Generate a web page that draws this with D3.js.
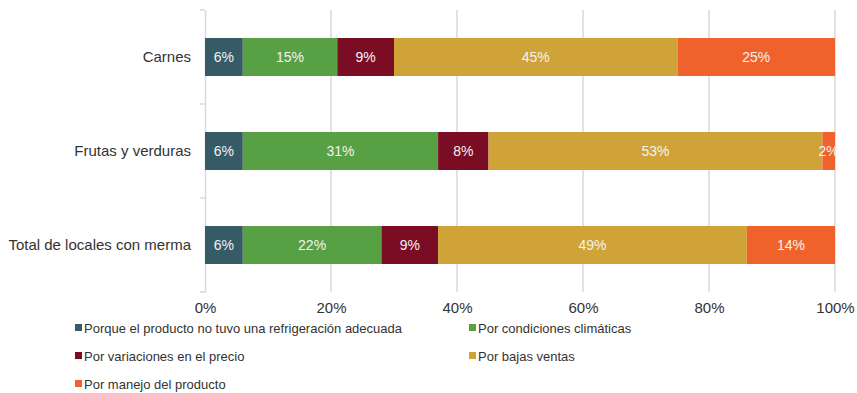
<!DOCTYPE html>
<html>
<head>
<meta charset="utf-8">
<script src="https://cdn.jsdelivr.net/npm/d3@7"></script>
<style>
  html, body { margin: 0; padding: 0; background: #fff; }
  svg { display: block; }
  .narrow { font-family: "Liberation Sans Narrow", "Arial Narrow", "Liberation Sans", Arial, sans-serif; }
</style>
</head>
<body>
<svg id="chart" width="857" height="393"></svg>
<script>
// Shares of product loss (merma) by reason, per group of stores
const categories = ["Carnes", "Frutas y verduras", "Total de locales con merma"];
const seriesNames = [
  "Porque el producto no tuvo una refrigeración adecuada",
  "Por condiciones climáticas",
  "Por variaciones en el precio",
  "Por bajas ventas",
  "Por manejo del producto"
];
const refrigeracion = [6, 6, 6];
const climaticas = [15, 31, 22];
const precio = [9, 8, 9];
const bajasVentas = [45, 53, 49];
const manejo = [25, 2, 14];
const tickValues = [0, 20, 40, 60, 80, 100];
const colors = ["#375a67", "#58a044", "#7a0c24", "#cfa337", "#f0622b"];

const seriesValues = [refrigeracion, climaticas, precio, bajasVentas, manejo];
const rows = categories.map((c, i) => {
  const r = { category: c };
  seriesNames.forEach((s, j) => { r[s] = seriesValues[j][i]; });
  return r;
});

const svg = d3.select("#chart");
const margin = { left: 205, right: 22, top: 10, bottom: 101 };
const W = 857, H = 393;

const x = d3.scaleLinear().domain([0, 100]).range([margin.left, W - margin.right]);
const y = d3.scaleBand().domain(categories).range([margin.top, H - margin.bottom]).paddingInner(0.596).paddingOuter(0.298);

// vertical gridlines
svg.append("g")
  .selectAll("line")
  .data(tickValues.slice(1))
  .join("line")
  .attr("x1", d => x(d)).attr("x2", d => x(d))
  .attr("y1", margin.top).attr("y2", H - margin.bottom)
  .attr("stroke", "#d9d9d9").attr("stroke-width", 1.5);

// category axis
const yAxis = d3.axisLeft(y).tickSize(0).tickPadding(14);
const gy = svg.append("g").attr("transform", `translate(${margin.left},0)`).call(yAxis);
gy.select(".domain").attr("stroke", "#d9d9d9").attr("stroke-width", 1.5);
gy.selectAll("text")
  .attr("font-family", "Liberation Sans, Arial, sans-serif")
  .attr("font-size", 15).attr("fill", "#333");
// band boundary ticks
const bounds = [margin.top].concat(categories.map(c => y(c) + y.bandwidth() + y.step() * y.paddingInner() / 2));
bounds[bounds.length - 1] = H - margin.bottom;
svg.append("g").selectAll("line").data(bounds).join("line")
  .attr("x1", margin.left - 5).attr("x2", margin.left)
  .attr("y1", d => d).attr("y2", d => d)
  .attr("stroke", "#d9d9d9").attr("stroke-width", 1.5);

// stacked bars
const stack = d3.stack().keys(seriesNames);
const stacked = stack(rows);
const layer = svg.append("g").selectAll("g")
  .data(stacked)
  .join("g")
  .attr("fill", (d, i) => colors[i]);
layer.selectAll("rect")
  .data(d => d)
  .join("rect")
  .attr("x", d => x(d[0]))
  .attr("width", d => x(d[1]) - x(d[0]))
  .attr("y", d => y(d.data.category))
  .attr("height", y.bandwidth());

// value labels
layer.selectAll("text")
  .data(d => d)
  .join("text")
  .attr("x", d => (x(d[0]) + x(d[1])) / 2)
  .attr("y", d => y(d.data.category) + y.bandwidth() / 2)
  .attr("dy", "0.35em")
  .attr("text-anchor", "middle")
  .attr("font-family", "Liberation Sans, Arial, sans-serif")
  .attr("font-size", 14)
  .attr("fill", "#f2f2f2")
  .text(d => (d[1] - d[0]) + "%");

// value axis
const xAxis = d3.axisBottom(x).tickValues(tickValues).tickSize(0).tickPadding(10).tickFormat(d => d + "%");
const gx = svg.append("g").attr("transform", `translate(0,${H - margin.bottom})`).call(xAxis);
gx.select(".domain").remove();
gx.selectAll("text")
  .attr("class", "narrow")
  .attr("font-size", 15).attr("fill", "#333");

// legend
const legendPos = [
  [75, 328], [469, 328], [75, 356], [469, 356], [75, 384]
];
const legend = svg.append("g").selectAll("g")
  .data(seriesNames)
  .join("g")
  .attr("transform", (d, i) => `translate(${legendPos[i][0]},${legendPos[i][1]})`);
legend.append("rect")
  .attr("x", 0).attr("y", -4).attr("width", 7).attr("height", 7)
  .attr("fill", (d, i) => colors[i]);
legend.append("text")
  .attr("class", "narrow")
  .attr("x", 9).attr("dy", "0.35em")
  .attr("font-size", 13).attr("fill", "#333")
  .text(d => d);
</script>
</body>
</html>
